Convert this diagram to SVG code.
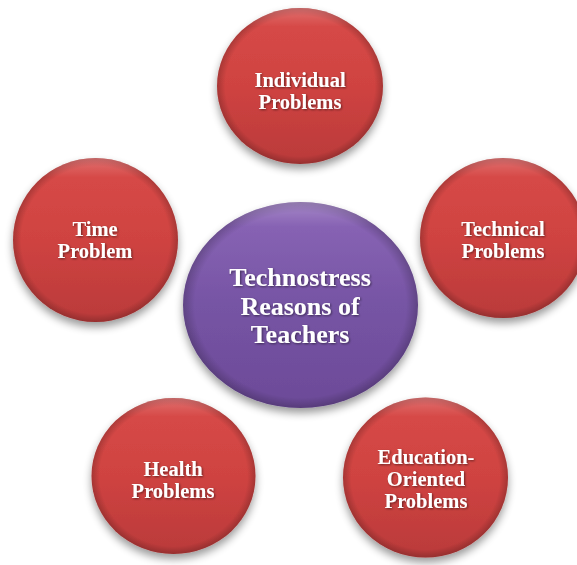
<svg xmlns="http://www.w3.org/2000/svg" width="577" height="565" viewBox="0 0 577 565">
<defs>
<linearGradient id="redG" x1="0" y1="0" x2="0" y2="1">
<stop offset="0" stop-color="#D84A48"/>
<stop offset="0.5" stop-color="#CF4341"/>
<stop offset="1" stop-color="#BA3A3A"/>
</linearGradient>
<linearGradient id="purG" x1="0" y1="0" x2="0" y2="1">
<stop offset="0" stop-color="#8C67B8"/>
<stop offset="0.5" stop-color="#7654A4"/>
<stop offset="1" stop-color="#6C4A98"/>
</linearGradient>
<radialGradient id="rim" cx="0.5" cy="0.5" r="0.5">
<stop offset="0.9" stop-color="#000" stop-opacity="0"/>
<stop offset="1" stop-color="#000" stop-opacity="0.2"/>
</radialGradient>
<linearGradient id="hi" x1="0" y1="0" x2="0" y2="1">
<stop offset="0" stop-color="#fff" stop-opacity="0.22"/>
<stop offset="0.12" stop-color="#fff" stop-opacity="0"/>
</linearGradient>
<filter id="sh" x="-20%" y="-20%" width="140%" height="150%">
<feGaussianBlur in="SourceAlpha" stdDeviation="4"/>
<feOffset dx="0" dy="5"/>
<feComponentTransfer><feFuncA type="linear" slope="0.4"/></feComponentTransfer>
<feMerge><feMergeNode/><feMergeNode in="SourceGraphic"/></feMerge>
</filter>
<filter id="ts" x="-10%" y="-20%" width="120%" height="140%">
<feGaussianBlur in="SourceAlpha" stdDeviation="0.8"/>
<feOffset dx="0.8" dy="1"/>
<feComponentTransfer><feFuncA type="linear" slope="0.5"/></feComponentTransfer>
<feMerge><feMergeNode/><feMergeNode in="SourceGraphic"/></feMerge>
</filter>
</defs>
<style>
.red{fill:url(#redG);filter:url(#sh)}
.pur{fill:url(#purG);filter:url(#sh)}
.rim{fill:url(#rim)}
.hl{fill:url(#hi)}
text{font-family:"Liberation Serif","Times New Roman",serif;font-weight:bold;fill:#fff;text-anchor:middle;filter:url(#ts)}
.s{font-size:20.5px}
.b{font-size:26px}
</style>
<rect width="577" height="565" fill="#fff"/>
<g id="center">
<ellipse class="pur" cx="300.5" cy="305" rx="117.5" ry="103"/>
<ellipse class="rim" cx="300.5" cy="305" rx="117.5" ry="103"/>
<ellipse class="hl" cx="300.5" cy="305" rx="117.5" ry="103"/>
<text class="b" x="300" y="286">Technostress</text>
<text class="b" x="300" y="315">Reasons of</text>
<text class="b" x="300" y="343">Teachers</text>
</g>
<g id="individual">
<ellipse class="red" cx="300" cy="86" rx="83" ry="78"/>
<ellipse class="rim" cx="300" cy="86" rx="83" ry="78"/>
<ellipse class="hl" cx="300" cy="86" rx="83" ry="78"/>
<text class="s" x="300" y="87">Individual</text>
<text class="s" x="300" y="109">Problems</text>
</g>
<g id="time">
<ellipse class="red" cx="95.5" cy="240" rx="82.5" ry="82"/>
<ellipse class="rim" cx="95.5" cy="240" rx="82.5" ry="82"/>
<ellipse class="hl" cx="95.5" cy="240" rx="82.5" ry="82"/>
<text class="s" x="95" y="236">Time</text>
<text class="s" x="95" y="258">Problem</text>
</g>
<g id="technical">
<ellipse class="red" cx="503" cy="238" rx="83" ry="80"/>
<ellipse class="rim" cx="503" cy="238" rx="83" ry="80"/>
<ellipse class="hl" cx="503" cy="238" rx="83" ry="80"/>
<text class="s" x="503" y="236">Technical</text>
<text class="s" x="503" y="258">Problems</text>
</g>
<g id="health">
<ellipse class="red" cx="173.5" cy="476" rx="82" ry="78"/>
<ellipse class="rim" cx="173.5" cy="476" rx="82" ry="78"/>
<ellipse class="hl" cx="173.5" cy="476" rx="82" ry="78"/>
<text class="s" x="173" y="476">Health</text>
<text class="s" x="173" y="498">Problems</text>
</g>
<g id="education">
<ellipse class="red" cx="425.5" cy="477.5" rx="82.5" ry="80"/>
<ellipse class="rim" cx="425.5" cy="477.5" rx="82.5" ry="80"/>
<ellipse class="hl" cx="425.5" cy="477.5" rx="82.5" ry="80"/>
<text class="s" x="426" y="464">Education-</text>
<text class="s" x="426" y="486">Oriented</text>
<text class="s" x="426" y="508">Problems</text>
</g>
<g id="connectors"/>
</svg>
